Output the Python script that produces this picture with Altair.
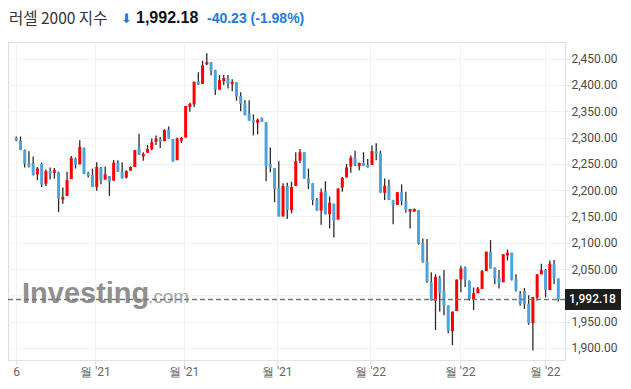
import altair as alt
import pandas as pd
import json

# ---------------- data ----------------
opens = [2299, 2294, 2276, 2251, 2251, 2230, 2250, 2212, 2236, 2233,
         2234, 2182, 2189, 2221, 2259, 2249, 2280, 2233, 2229, 2206,
         2243, 2220, 2227, 2218, 2252, 2234, 2224, 2237, 2244, 2279,
         2264, 2271, 2278, 2292, 2297, 2293, 2315, 2297, 2257, 2294,
         2300, 2358, 2363, 2406, 2402, 2439, 2443, 2428, 2391, 2407,
         2413, 2402, 2405, 2379, 2364, 2345, 2333, 2328, 2336, 2329,
         2250, 2242, 2204, 2150, 2208, 2162, 2208, 2256, 2272, 2222,
         2213, 2181, 2161, 2198, 2154, 2174, 2144, 2205, 2224, 2245,
         2262, 2246, 2252, 2248, 2248, 2274, 2270, 2195, 2208, 2181,
         2172, 2196, 2179, 2159, 2159, 2162, 2099, 2065, 2025, 1990,
         2033, 2008, 1980, 1932, 1970, 2030, 2053, 2028, 1993, 2004,
         2012, 2046, 2082, 2053, 2033, 2025, 2076, 2081, 2031, 2002,
         2008, 1984, 1947, 1996, 2040, 2048, 2010, 2060, 2032]
highs = [2302, 2302, 2277, 2274, 2264, 2244, 2252, 2239, 2243, 2242,
         2235, 2205, 2235, 2265, 2262, 2295, 2281, 2235, 2241, 2253,
         2244, 2245, 2227, 2257, 2257, 2253, 2238, 2245, 2276, 2307,
         2272, 2286, 2298, 2304, 2301, 2316, 2321, 2297, 2300, 2301,
         2360, 2366, 2406, 2424, 2446, 2460, 2443, 2429, 2419, 2419,
         2419, 2411, 2405, 2386, 2371, 2371, 2344, 2336, 2338, 2329,
         2281, 2242, 2255, 2213, 2214, 2216, 2272, 2278, 2272, 2241,
         2213, 2185, 2203, 2217, 2188, 2174, 2203, 2225, 2250, 2266,
         2275, 2252, 2272, 2259, 2285, 2289, 2275, 2222, 2220, 2181,
         2196, 2211, 2197, 2164, 2165, 2162, 2108, 2107, 2044, 2040,
         2037, 2048, 1981, 1969, 2030, 2056, 2055, 2028, 2015, 2016,
         2048, 2083, 2105, 2053, 2048, 2078, 2087, 2081, 2040, 2008,
         2014, 2000, 1997, 2040, 2060, 2050, 2066, 2067, 2032]
lows = [2293, 2276, 2243, 2243, 2228, 2219, 2206, 2208, 2220, 2222,
        2158, 2174, 2189, 2221, 2241, 2249, 2230, 2224, 2206, 2199,
        2211, 2220, 2189, 2218, 2235, 2222, 2222, 2237, 2244, 2267,
        2256, 2271, 2276, 2286, 2280, 2293, 2298, 2254, 2257, 2290,
        2300, 2349, 2358, 2400, 2402, 2438, 2418, 2381, 2391, 2400,
        2393, 2388, 2370, 2350, 2342, 2332, 2304, 2306, 2330, 2217,
        2234, 2177, 2150, 2150, 2145, 2156, 2208, 2251, 2222, 2202,
        2171, 2161, 2134, 2154, 2127, 2110, 2144, 2197, 2224, 2233,
        2246, 2238, 2246, 2243, 2248, 2257, 2195, 2181, 2181, 2135,
        2172, 2171, 2157, 2127, 2159, 2096, 2062, 2024, 1990, 1934,
        1969, 1962, 1928, 1905, 1970, 2006, 2016, 1990, 1972, 2004,
        2012, 2046, 2051, 2021, 2013, 2025, 2066, 2028, 2007, 1980,
        1974, 1944, 1895, 1990, 2040, 1996, 2010, 2021, 1988]
closes = [2294, 2277, 2250, 2245, 2229, 2241, 2211, 2236, 2231, 2238,
          2184, 2187, 2219, 2261, 2248, 2282, 2231, 2227, 2206, 2244,
          2218, 2230, 2216, 2252, 2235, 2222, 2236, 2244, 2276, 2267,
          2269, 2278, 2291, 2298, 2292, 2314, 2298, 2255, 2298, 2299,
          2360, 2364, 2406, 2401, 2437, 2443, 2427, 2391, 2409, 2413,
          2402, 2406, 2378, 2364, 2343, 2332, 2328, 2334, 2330, 2246,
          2243, 2202, 2150, 2208, 2162, 2206, 2255, 2272, 2222, 2212,
          2181, 2161, 2196, 2154, 2176, 2142, 2203, 2223, 2243, 2262,
          2249, 2252, 2246, 2243, 2274, 2269, 2195, 2208, 2181, 2172,
          2196, 2179, 2162, 2164, 2164, 2098, 2063, 2026, 1990, 2035,
          2005, 1980, 1933, 1969, 2030, 2051, 2030, 1993, 2004, 2013,
          2046, 2083, 2051, 2032, 2023, 2078, 2081, 2030, 2010, 1983,
          1983, 1947, 1997, 2040, 2048, 2010, 2060, 2032.41, 1992.18]

y_ticks = [1900, 1950, 2000, 2050, 2100, 2150, 2200, 2250, 2300, 2350, 2400, 2450]
x_tick_pos = [0, 18.6, 39.5, 61.5, 83.6, 104.7, 124.8]
x_tick_labels = ["6", "월 '21", "월 '21", "월 '21", "월 '22", "월 '22", "월 '22"]

title_name = "러셀 2000 지수"
last_price = 1992.18
change = -40.23
change_pct = -1.98

# ---------------- chart ----------------
RED = "#ff0000"
BLUE = "#4fa3dc"
CHANGE_BLUE = "#1f7bd6"

df = pd.DataFrame({"i": list(range(len(opens))), "open": opens, "high": highs,
                   "low": lows, "close": closes})
df["dir"] = ["up" if c >= o else "down" for o, c in zip(opens, closes)]

xscale = alt.Scale(domain=[-0.765, 128.4], nice=False, zero=False)
yscale = alt.Scale(domain=[1877, 2481.6], nice=False, zero=False)

expr = "''"
for p, lab in reversed(list(zip(x_tick_pos, x_tick_labels))):
    expr = f"abs(datum.value - {p}) < 0.05 ? {json.dumps(lab, ensure_ascii=False)} : ({expr})"

# the label hidden behind the last-price box is left blank
y_label_expr = f"abs(datum.value - {last_price}) < 20 ? '' : format(datum.value, ',.2f')"

x_axis = alt.Axis(values=x_tick_pos, labelExpr=expr, grid=True, gridColor="#f2f2f2",
                  gridWidth=1, domainColor="#dfe3e8", tickColor="#dfe3e8", tickSize=5,
                  labelColor="#666666", labelFontSize=12, labelFont="Roboto",
                  labelPadding=1, labelFlush=False, labelOverlap=False, title=None)
y_axis = alt.Axis(orient="right", values=y_ticks, labelExpr=y_label_expr, grid=True,
                  gridColor="#f2f2f2", gridWidth=1, domainColor="#dfe3e8",
                  tickColor="#dfe3e8", tickSize=4, labelColor="#4a4a4a",
                  labelFontSize=12, labelFont="Roboto", labelPadding=2,
                  labelOverlap=False, labelFlush=False, title=None)


def X(field):
    return alt.X(field, scale=xscale, axis=x_axis)


def Y(field):
    return alt.Y(field, scale=yscale, axis=y_axis)


base = alt.Chart(df)

wicks = base.mark_rule(color="#2b2b2b", strokeWidth=1.3).encode(
    x=X("i:Q"), y=Y("low:Q"), y2="high:Q")

bodies = base.mark_bar(size=3).encode(
    x=X("i:Q"), y=Y("open:Q"), y2="close:Q",
    color=alt.Color("dir:N", scale=alt.Scale(domain=["up", "down"], range=[RED, BLUE]),
                    legend=None),
)

price_df = pd.DataFrame({"v": [last_price], "top": [last_price + 20],
                         "bot": [last_price - 20], "t": [f"{last_price:,.2f}"]})

dash = alt.Chart(price_df).mark_rule(strokeDash=[5, 3], color="#777777", strokeWidth=1.5).encode(
    y=Y("v:Q"))

box = alt.Chart(price_df).mark_rect(color="#1e1e1e").encode(
    x=alt.value(557), x2=alt.value(613), y=Y("top:Q"), y2="bot:Q")

box_text = alt.Chart(price_df).mark_text(color="white", fontSize=12, fontWeight=500,
                                         font="Roboto", align="left", baseline="middle").encode(
    x=alt.value(561), y=Y("v:Q"), text="t:N")

wm_df = pd.DataFrame({"a": ["Investing"], "b": [".com"]})
wm1 = alt.Chart(wm_df).mark_text(color="#8f8f8f", fontSize=29, fontWeight="bold",
                                 font="Liberation Sans", align="left",
                                 baseline="alphabetic").encode(
    x=alt.value(14), y=alt.value(261), text="a:N")
wm2 = alt.Chart(wm_df).mark_text(color="#a5a5a5", fontSize=19, font="Liberation Sans",
                                 align="left", baseline="alphabetic").encode(
    x=alt.value(140), y=alt.value(261), text="b:N")

hdr = pd.DataFrame({"name": [title_name], "arrow": ["⬇"],
                    "price": [f"{last_price:,.2f}"],
                    "chg": [f"{change:+.2f} ({change_pct:+.2f}%)"]})
t1 = alt.Chart(hdr).mark_text(color="#333333", fontSize=15.5, font="Noto Sans CJK KR",
                              align="left", baseline="middle").encode(
    x=alt.value(1), y=alt.value(-23), text="name:N")
t2 = alt.Chart(hdr).mark_text(color=CHANGE_BLUE, fontSize=13, font="DejaVu Sans",
                              align="left", baseline="middle").encode(
    x=alt.value(113), y=alt.value(-23), text="arrow:N")
t3 = alt.Chart(hdr).mark_text(color="#111111", fontSize=16, fontWeight="bold",
                              font="Liberation Sans", align="left", baseline="middle").encode(
    x=alt.value(128), y=alt.value(-24), text="price:N")
t4 = alt.Chart(hdr).mark_text(color=CHANGE_BLUE, fontSize=14, fontWeight="bold",
                              font="Liberation Sans", align="left", baseline="middle").encode(
    x=alt.value(199), y=alt.value(-23), text="chg:N")

chart = alt.layer(wm1, wm2, wicks, bodies, dash, box, box_text, t1, t2, t3, t4).properties(
    width=557, height=318,
    padding={"left": 0, "top": 34, "right": 58, "bottom": 19},
    autosize="none",
).configure_view(stroke="transparent", strokeWidth=0).configure(background="white")

chart.save("out.html", embed_options={"renderer": "svg", "actions": False})
